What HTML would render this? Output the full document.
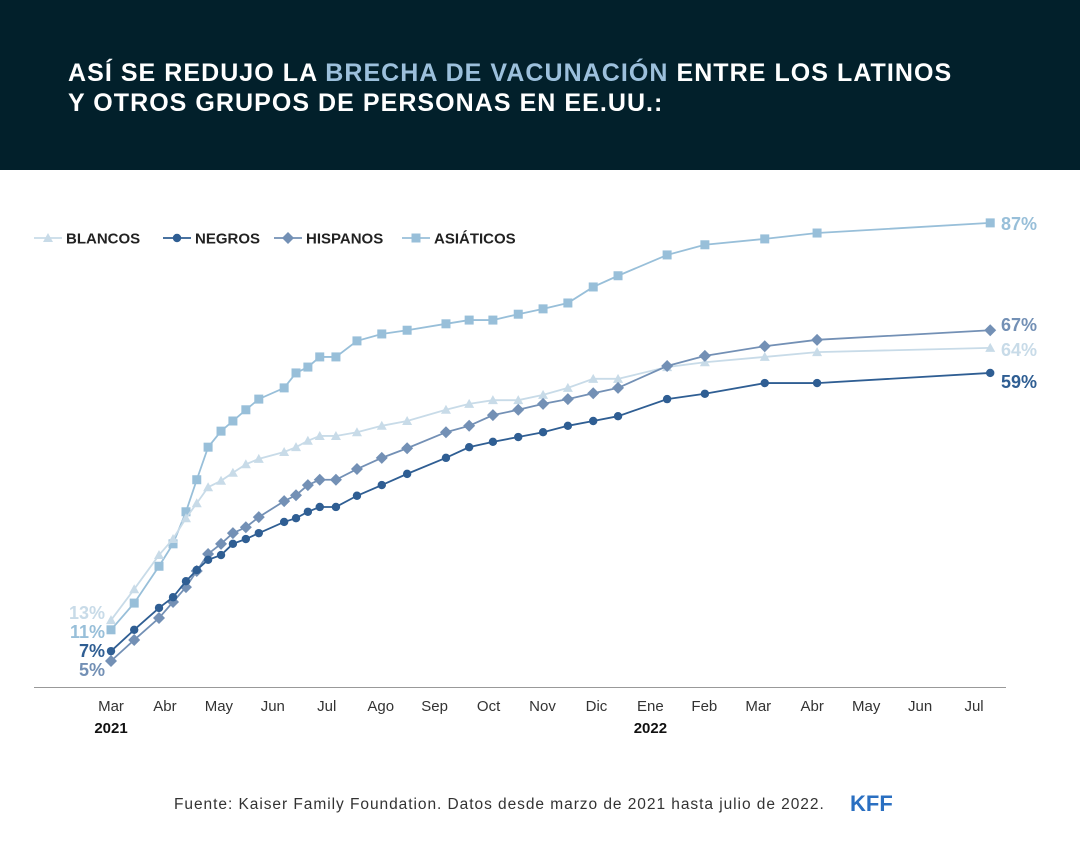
<!DOCTYPE html>
<html><head><meta charset="utf-8">
<style>
html,body{margin:0;padding:0;width:1080px;height:864px;background:#fff;overflow:hidden;font-family:"Liberation Sans",sans-serif}
#hdr{position:absolute;left:0;top:0;width:1080px;height:170px;background:#02202b}
#title{position:absolute;left:68px;top:58px;color:#fff;font-weight:bold;font-size:25px;line-height:30px;letter-spacing:1.05px;margin:0}
#title span{color:#9cc0dc}
#src{position:absolute;left:174px;top:796px;font-size:15.5px;color:#333;letter-spacing:0.95px}
#kff{position:absolute;left:850px;top:791px;font-size:22px;font-weight:bold;color:#2a6fc1;letter-spacing:0px}
svg{position:absolute;left:0;top:0}
</style></head><body>
<div id="hdr"></div>
<h1 id="title">ASÍ SE REDUJO LA <span>BRECHA DE VACUNACIÓN</span> ENTRE LOS LATINOS<br>Y OTROS GRUPOS DE PERSONAS EN EE.UU.:</h1>
<svg id="chart" width="1080" height="864"></svg>
<div id="src">Fuente: Kaiser Family Foundation. Datos desde marzo de 2021 hasta julio de 2022.</div>
<div id="kff">KFF</div>
<script>
const months = [0,0.43,0.89,1.15,1.39,1.59,1.80,2.04,2.26,2.50,2.74,3.21,3.43,3.65,3.87,4.17,4.56,5.02,5.49,6.21,6.64,7.08,7.55,8.01,8.47,8.94,9.40,10.31,11.01,12.12,13.09,16.30];
const blancos = [12.7,18.5,24.9,27.9,31.8,34.6,37.6,38.8,40.3,41.9,42.9,44.2,45.1,46.3,47.2,47.2,47.9,49.1,50.0,52.1,53.2,53.9,53.9,54.9,56.2,57.9,57.9,60.1,61.0,62.0,62.9,63.7];
const negros = [6.9,10.9,15.0,17.0,20.0,22.1,24.0,24.9,27.0,27.9,29.0,31.1,31.8,33.0,33.9,33.9,36.0,38.0,40.1,43.1,45.1,46.1,47.0,47.9,49.1,50.0,50.9,54.1,55.1,57.1,57.1,59.0];
const hispanos = [5.06,9.0,13.1,16.1,18.9,21.9,25.1,27.0,29.0,30.1,32.0,35.0,36.1,38.0,39.0,39.0,41.0,43.1,44.9,47.9,49.1,51.1,52.1,53.2,54.1,55.2,56.2,60.3,62.2,64.0,65.2,67.0];
const asiaticos = [10.9,15.9,22.8,27.0,33.0,39.0,45.1,48.1,50.0,52.1,54.1,56.2,59.0,60.1,62.0,62.0,65.0,66.3,67.0,68.2,68.9,68.9,70.0,71.0,72.1,75.1,77.2,81.1,83.0,84.1,85.2,87.1];
const tickLabels = ["Mar","Abr","May","Jun","Jul","Ago","Sep","Oct","Nov","Dic","Ene","Feb","Mar","Abr","May","Jun","Jul"];
const yearLabels = [[0,"2021"],[10,"2022"]];
const startLabels = ["13%","11%","7%","5%"];
const endLabels = ["87%","67%","64%","59%"];

const NS="http://www.w3.org/2000/svg";
const svg=document.getElementById('chart');
const X=m=>111+m*53.94;
const Y=v=>688-v*5.34;
function mk(t,a,p){const e=document.createElementNS(NS,t);for(const k in a)e.setAttribute(k,a[k]);(p||svg).appendChild(e);return e;}
function marker(shape,x,y,c,g){
  if(shape==='tri') return mk('path',{d:`M${x},${y-5}L${x+5},${y+4}L${x-5},${y+4}Z`,fill:c},g);
  if(shape==='circ') return mk('circle',{cx:x,cy:y,r:4.2,fill:c},g);
  if(shape==='dia') return mk('path',{d:`M${x},${y-6}L${x+6},${y}L${x},${y+6}L${x-6},${y}Z`,fill:c},g);
  return mk('rect',{x:x-4.5,y:y-4.5,width:9,height:9,fill:c},g);
}
const ax=mk('line',{x1:34,x2:1006,y1:687.5,y2:687.5,stroke:'#999','stroke-width':1});


tickLabels.forEach((t,i)=>{
  const e=mk('text',{x:X(i),y:711,'text-anchor':'middle','font-size':15,fill:'#333'});
  e.textContent=t;
  
  
});
yearLabels.forEach(([m,t])=>{
  const e=mk('text',{x:X(m),y:733,'text-anchor':'middle','font-size':15,'font-weight':'bold',fill:'#111'});
  e.textContent=t;
  
  
});
const series=[
 ['asiaticos',asiaticos,'#98bfd9','sq'],
 ['blancos',blancos,'#c8dbe8','tri'],
 ['hispanos',hispanos,'#7390b5','dia'],
 ['negros',negros,'#2f5e93','circ']
];
series.forEach(([name,vals,c,shape])=>{
  const g=mk('g',{});
  
  
  mk('polyline',{points:vals.map((v,i)=>X(months[i])+','+Y(v)).join(' '),fill:'none',stroke:c,'stroke-width':1.8},g);
  vals.forEach((v,i)=>{
    const m=marker(shape,X(months[i]),Y(v),c,g);
    
    
  });
});
const sCol=['#c8dbe8','#98bfd9','#2f5e93','#7390b5'];
const sY=[619,638,657,676];
startLabels.forEach((t,i)=>{
  const e=mk('text',{x:105,y:sY[i],'text-anchor':'end','font-size':18,'font-weight':'bold',fill:sCol[i]});
  e.textContent=t;
  
  
});
const eCol=['#98bfd9','#7390b5','#c8dbe8','#2f5e93'];
const eY=[230,331,356,388];
endLabels.forEach((t,i)=>{
  const e=mk('text',{x:1001,y:eY[i],'font-size':18,'font-weight':'bold',fill:eCol[i]});
  e.textContent=t;
  
  
});
const leg=[['BLANCOS',34,'#c8dbe8','tri'],['NEGROS',163,'#2f5e93','circ'],['HISPANOS',274,'#7390b5','dia'],['ASIÁTICOS',402,'#98bfd9','sq']];
leg.forEach(([t,x,c,s])=>{
  const g=mk('g',{});
  
  
  mk('line',{x1:x,x2:x+28,y1:238,y2:238,stroke:c,'stroke-width':1.8},g);
  marker(s,x+14,238,c,g);
  const e=mk('text',{x:x+32,y:243.5,'font-size':15,'font-weight':'bold',fill:'#222'},g);
  e.textContent=t;
});
</script>
</body></html>
